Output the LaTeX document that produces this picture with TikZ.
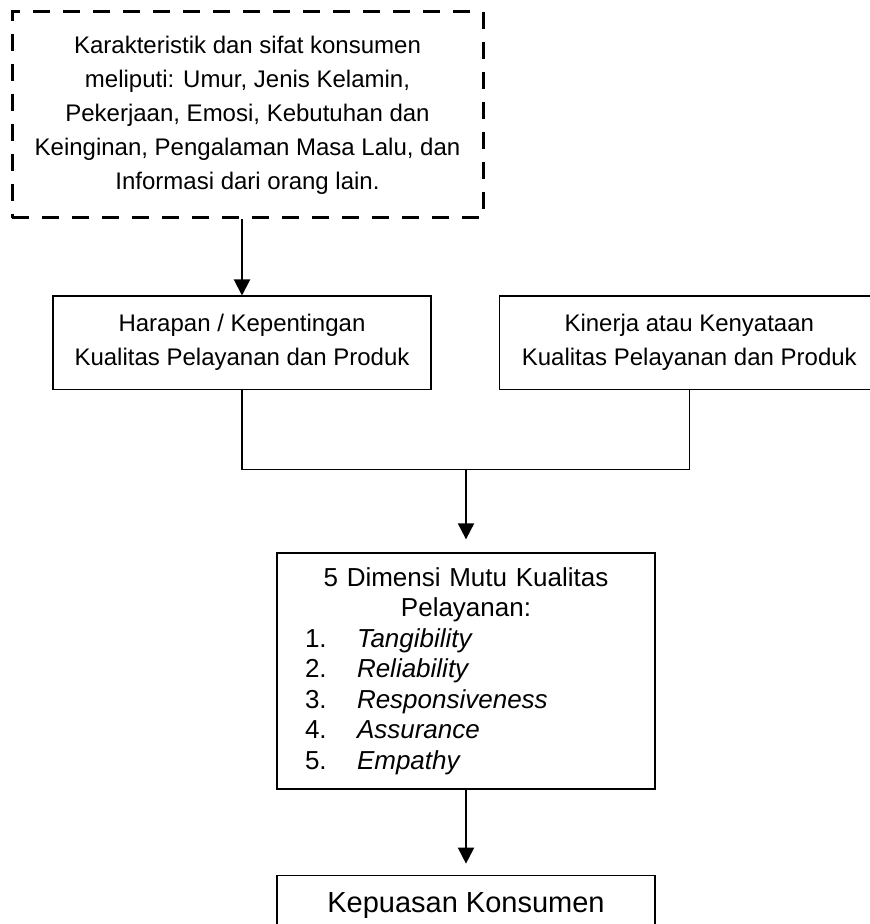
\documentclass[tikz,border=0pt]{standalone}
\usepackage{fontspec}
\setmainfont{Liberation Sans}
\usetikzlibrary{arrows.meta}
\usetikzlibrary{positioning}

\begin{document}
\begin{tikzpicture}[%
        x=0.5pt, y=-0.5pt,
        every node/.style={align=center, inner sep=0pt, font=\fontsize{12}{17}\selectfont},
        box/.style={draw, line width=0.65pt, minimum width=189pt, minimum height=46.5pt},
        dashbox/.style={draw, line width=1.5pt, dash pattern=on 8.5pt off 6.5pt, minimum width=235.5pt, minimum height=103pt},
        flow/.style={line width=1pt, -{Triangle[width=8pt,length=8pt]}},
        joinline/.style={line width=0.55pt}
      ]
      \useasboundingbox (0,0) rectangle (869,924);
      \node [dashbox] (sifat) at (247.5,115) {Karakteristik dan sifat konsumen\\ meliputi: Umur, Jenis Kelamin,\\ Pekerjaan, Emosi, Kebutuhan dan\\ Keinginan, Pengalaman Masa Lalu, dan\\ Informasi dari orang lain.};
      \node [box] (harapan) [below=38pt of sifat, xshift=-2.75pt] {Harapan / Kepentingan\\ Kualitas Pelayanan dan Produk};
      \node [box] (kinerja) [right=33.5pt of harapan, minimum width=190pt] {Kinerja atau Kenyataan\\ Kualitas Pelayanan dan Produk};
      \node [box] (dimensi) [minimum height=118pt, text width=189pt, font=\fontsize{13}{15.25}\selectfont] at (466,671) {%
        5 Dimensi Mutu Kualitas\\ Pelayanan:\\
        \makebox[189pt][l]{\hspace*{14pt}\makebox[26pt][l]{1.}\textit{Tangibility}}\\
        \makebox[189pt][l]{\hspace*{14pt}\makebox[26pt][l]{2.}\textit{Reliability}}\\
        \makebox[189pt][l]{\hspace*{14pt}\makebox[26pt][l]{3.}\textit{Responsiveness}}\\
        \makebox[189pt][l]{\hspace*{14pt}\makebox[26pt][l]{4.}\textit{Assurance}}\\
        \makebox[189pt][l]{\hspace*{14pt}\makebox[26pt][l]{5.}\textit{Empathy}}};
      \node [box] (kepuasan) [below=42.5pt of dimensi, minimum height=30pt, font=\fontsize{14.5}{17}\selectfont] {Kepuasan Konsumen};
      \draw [flow] (harapan.north |- sifat.south) -- (harapan.north);
      \draw [joinline] (harapan.south) -- ++(0,80) coordinate (join) -| (kinerja.south);
      \draw [flow, shorten >=6.5pt] (join -| dimensi.north) -- (dimensi.north);
      \draw [flow, shorten >=5.5pt] (dimensi.south) -- (kepuasan.north);
    \end{tikzpicture}
\end{document}
